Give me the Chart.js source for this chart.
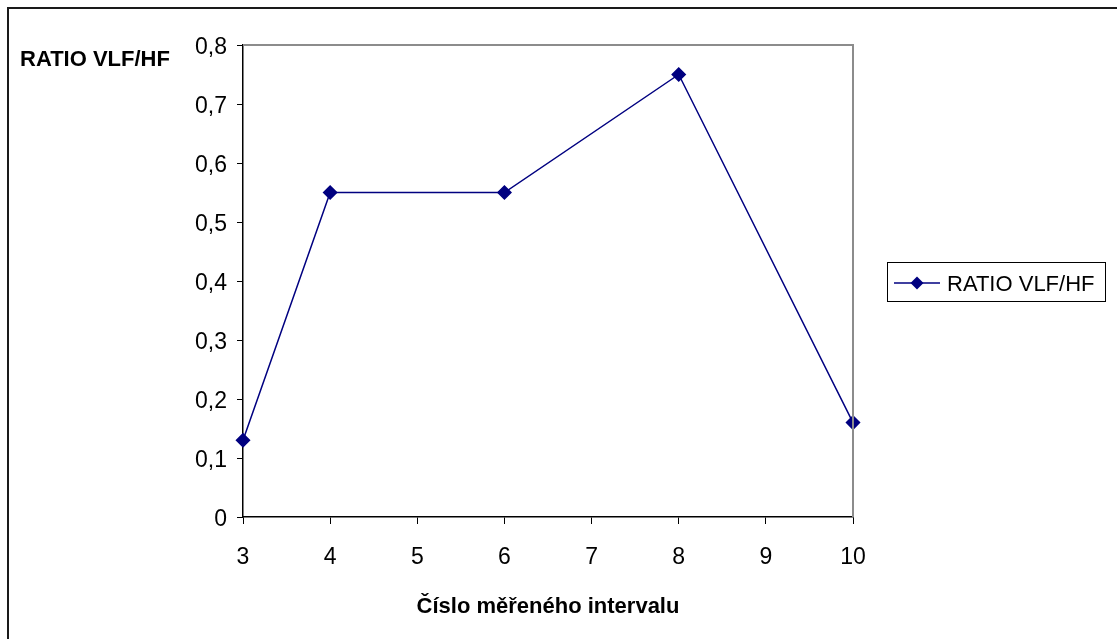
<!DOCTYPE html>
<html>
<head>
<meta charset="utf-8">
<script src="https://cdn.jsdelivr.net/npm/chart.js@4"></script>
<style>
  body { margin: 0; background: #fff; }
  #wrap { width: 1117px; height: 639px; }
</style>
</head>
<body>
<div id="wrap"><canvas id="graf" width="1117" height="639"></canvas></div>
<script>
// data
const intervaly = [3, 4, 6, 8, 10]
const ratio = [0.13, 0.55, 0.55, 0.75, 0.16]
const nazevRady = "RATIO VLF/HF"
const nazevOsyY = "RATIO VLF/HF"
const nazevOsyX = "Číslo měřeného intervalu"

const body = intervaly.map((x, i) => ({ x: x, y: ratio[i] }))

const modra = "#000080"

// popisky os, ramecek grafu a legenda
const doplnky = {
  id: "doplnky",
  afterDraw(chart) {
    const ctx = chart.ctx
    const a = chart.chartArea
    ctx.save()

    // vnejsi ramecek (jen horni a levy okraj je videt)
    ctx.strokeStyle = "#1a1a1a"
    ctx.lineWidth = 2
    ctx.beginPath()
    ctx.moveTo(8, 639)
    ctx.lineTo(8, 8)
    ctx.lineTo(1117, 8)
    ctx.stroke()

    // sedy okraj plochy grafu
    ctx.strokeStyle = "#8c8c8c"
    ctx.lineWidth = 2
    ctx.beginPath()
    ctx.moveTo(a.left, a.top)
    ctx.lineTo(a.right, a.top)
    ctx.lineTo(a.right, a.bottom)
    ctx.stroke()

    // nazvy os
    ctx.fillStyle = "#000"
    ctx.font = "bold 22px 'Liberation Sans', Arial, sans-serif"
    ctx.textBaseline = "alphabetic"
    ctx.textAlign = "left"
    ctx.fillText(nazevOsyY, 20, 66)
    ctx.textAlign = "center"
    ctx.fillText(nazevOsyX, (a.left + a.right) / 2, 613)

    // legenda
    ctx.strokeStyle = "#000"
    ctx.lineWidth = 1
    ctx.strokeRect(887.5, 262.5, 218, 39)
    ctx.strokeStyle = modra
    ctx.lineWidth = 1.5
    ctx.beginPath()
    ctx.moveTo(894, 283)
    ctx.lineTo(940, 283)
    ctx.stroke()
    ctx.fillStyle = modra
    ctx.beginPath()
    ctx.moveTo(917, 276.5)
    ctx.lineTo(923.5, 283)
    ctx.lineTo(917, 289.5)
    ctx.lineTo(910.5, 283)
    ctx.closePath()
    ctx.fill()
    ctx.fillStyle = "#000"
    ctx.font = "22px 'Liberation Sans', Arial, sans-serif"
    ctx.textAlign = "left"
    ctx.fillText(nazevRady, 947, 291)

    ctx.restore()
  }
}

new Chart(document.getElementById("graf"), {
  type: "line",
  data: {
    datasets: [
      {
        label: nazevRady,
        data: body,
        borderColor: modra,
        backgroundColor: modra,
        borderWidth: 1.5,
        pointStyle: "rectRot",
        pointRadius: 6.5,
        pointBackgroundColor: modra,
        pointBorderColor: modra,
        tension: 0,
        clip: false,
      },
    ],
  },
  options: {
    responsive: false,
    animation: false,
    layout: {
      padding: { left: 0, top: 45, right: 264, bottom: 0 },
    },
    plugins: {
      legend: { display: false },
      tooltip: { enabled: false },
    },
    scales: {
      x: {
        type: "linear",
        min: 3,
        max: 10,
        afterFit: (s) => { s.height = 122 },
        border: { color: "#000", width: 1.5 },
        grid: { drawOnChartArea: false, drawTicks: true, tickLength: 7, color: "#000" },
        ticks: {
          stepSize: 1,
          padding: 20,
          color: "#000",
          font: { family: "'Liberation Sans', Arial, sans-serif", size: 23 },
        },
      },
      y: {
        min: 0,
        max: 0.8,
        afterFit: (s) => { s.width = 243 },
        border: { color: "#000", width: 1.5 },
        grid: { drawOnChartArea: false, drawTicks: true, tickLength: 6, color: "#000" },
        ticks: {
          stepSize: 0.1,
          padding: 10,
          labelOffset: 3,
          color: "#000",
          font: { family: "'Liberation Sans', Arial, sans-serif", size: 23 },
          callback: (v) => (v === 0 ? "0" : v.toFixed(1).replace(".", ",")),
        },
      },
    },
  },
  plugins: [doplnky],
})
</script>
</body>
</html>
